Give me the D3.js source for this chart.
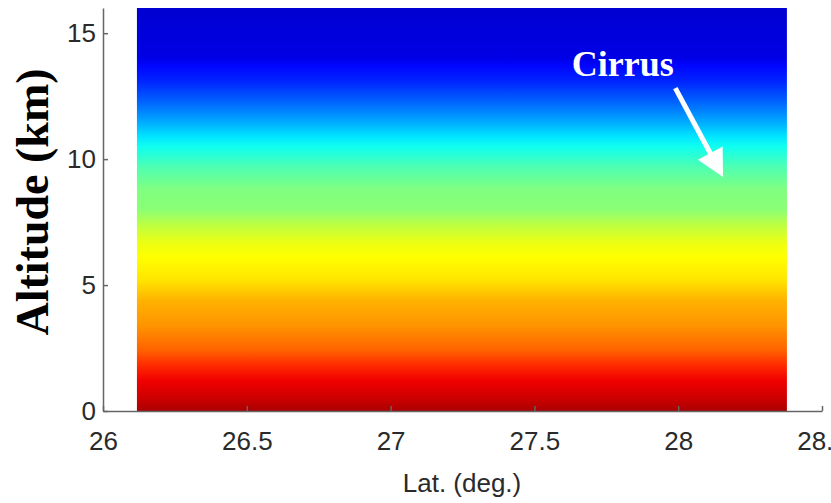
<!DOCTYPE html>
<html>
<head>
<meta charset="utf-8">
<script src="https://cdn.jsdelivr.net/npm/d3@7"></script>
<style>
  body { margin: 0; background: #fff; }
  .axis path, .axis line { stroke: #666; stroke-width: 1.5px; }
  .axis text { font-family: "Liberation Sans", Arial, sans-serif; font-size: 26px; fill: #2a2a2a; }
  .axisTitle { font-family: "Liberation Sans", Arial, sans-serif; font-size: 26px; fill: #2a2a2a; }
  .altTitle { font-family: "Liberation Serif", "Times New Roman", serif; font-weight: bold; font-size: 46px; fill: #000; }
  .note { font-family: "Liberation Serif", "Times New Roman", serif; font-weight: bold; font-size: 36px; fill: #fff; }
</style>
</head>
<body>
<div class="container"></div>
<script>
(function(){

// altitude (km) of each sampled level and its colour value (0..1 on the jet map)
var altitudes = [16.0, 14.0, 13.7, 13.1, 12.3, 11.5, 10.9, 10.5, 9.7, 8.8, 8.0, 7.4, 6.6, 6.1, 5.2, 4.4, 3.4, 2.4, 1.8, 1.2, 0.4, 0.0];
var colorValues = [0.08, 0.10, 0.13, 0.16, 0.22, 0.29, 0.35, 0.39, 0.45, 0.50, 0.51, 0.56, 0.61, 0.625, 0.65, 0.70, 0.73, 0.78, 0.835, 0.89, 0.93, 0.96];

// latitude span of the measurement (deg.)
var latRange = [26.118, 28.378];

var xTicks = [26, 26.5, 27, 27.5, 28, 28.5];
var yTicks = [0, 5, 10, 15];

// "Cirrus" annotation, arrow from -> to, in lat/alt
var noteText = "Cirrus";
var notePos = [27.63, 13.3];
var arrowFrom = [27.99, 12.82];
var arrowTo = [28.156, 9.29];

var width = 831,
    height = 503;

var xScale = d3.scaleLinear()
  .domain([26, 28.5])
  .range([103, 822]);

var yScale = d3.scaleLinear()
  .domain([0, 16])
  .range([411, 8]);

var jet = d3.scaleLinear()
  .domain([0, 0.125, 0.375, 0.625, 0.875, 1])
  .range(["#000080", "#0000ff", "#00ffff", "#ffff00", "#ff0000", "#800000"]);

window.onload = setChart();

function setChart(){

  var svg = d3.select(".container")
    .append("svg")
    .attr("width", width)
    .attr("height", height);

  setField(svg);
  setAxes(svg);
  setNote(svg);
};

// vertical colour field, stops placed by the y scale
function setField(svg){

  var top = yScale(16),
      bottom = yScale(0);

  var grad = svg.append("defs")
    .append("linearGradient")
    .attr("id", "field")
    .attr("gradientUnits", "userSpaceOnUse")
    .attr("x1", 0).attr("x2", 0)
    .attr("y1", top).attr("y2", bottom);

  grad.selectAll("stop")
    .data(altitudes)
    .enter()
    .append("stop")
    .attr("offset", function(d){
      return (yScale(d) - top) / (bottom - top);
    })
    .attr("stop-color", function(d, i){
      return jet(colorValues[i]);
    });

  svg.append("rect")
    .attr("class", "field")
    .attr("x", xScale(latRange[0]))
    .attr("y", top)
    .attr("width", xScale(latRange[1]) - xScale(latRange[0]))
    .attr("height", bottom - top)
    .style("fill", "url(#field)");
};

function setAxes(svg){

  var xAxis = d3.axisBottom(xScale)
    .tickValues(xTicks)
    .tickSize(-5)
    .tickSizeOuter(0)
    .tickPadding(21)
    .tickFormat(function(d){ return String(d); });

  svg.append("g")
    .attr("class", "axis")
    .attr("transform", "translate(0," + yScale(0) + ")")
    .call(xAxis);

  var yAxis = d3.axisLeft(yScale)
    .tickValues(yTicks)
    .tickSize(-5)
    .tickSizeOuter(0)
    .tickPadding(7);

  svg.append("g")
    .attr("class", "axis")
    .attr("transform", "translate(" + xScale(26) + ",0)")
    .call(yAxis);

  svg.selectAll(".axis .domain").attr("fill", "none");

  svg.append("text")
    .attr("class", "axisTitle")
    .attr("x", 462)
    .attr("y", 492)
    .attr("text-anchor", "middle")
    .text("Lat. (deg.)");

  svg.append("text")
    .attr("class", "altTitle")
    .attr("transform", "translate(48,202) rotate(-90)")
    .attr("text-anchor", "middle")
    .text("Altitude (km)");
};

function setNote(svg){

  svg.append("text")
    .attr("class", "note")
    .attr("x", xScale(notePos[0]))
    .attr("y", yScale(notePos[1]))
    .text(noteText);

  var x0 = xScale(arrowFrom[0]), y0 = yScale(arrowFrom[1]),
      x1 = xScale(arrowTo[0]), y1 = yScale(arrowTo[1]);

  var dx = x1 - x0, dy = y1 - y0,
      len = Math.sqrt(dx * dx + dy * dy),
      ux = dx / len, uy = dy / len,
      headLen = 27, headHalf = 14;

  var bx = x1 - ux * headLen,
      by = y1 - uy * headLen;

  svg.append("line")
    .attr("x1", x0).attr("y1", y0)
    .attr("x2", bx + ux * 2).attr("y2", by + uy * 2)
    .attr("stroke", "#fff")
    .attr("stroke-width", 5);

  svg.append("path")
    .attr("d", "M" + x1 + "," + y1 +
      "L" + (bx - uy * headHalf) + "," + (by + ux * headHalf) +
      "L" + (bx + uy * headHalf) + "," + (by - ux * headHalf) + "Z")
    .attr("fill", "#fff");
};

})();
</script>
</body>
</html>
